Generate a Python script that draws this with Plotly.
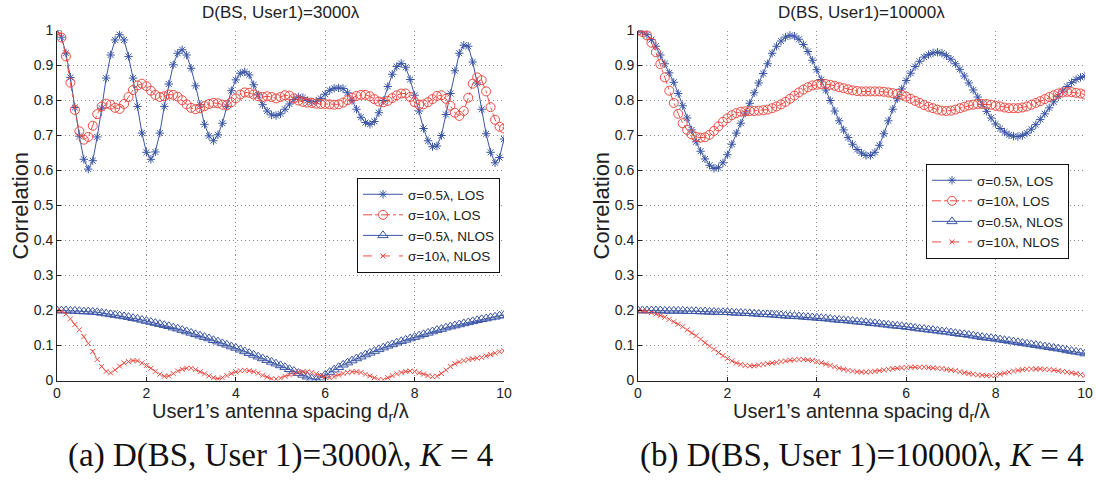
import plotly.graph_objects as go

# spacing d_r / lambda (0 .. 10, step 0.1)
x_spacing = [round(i * 0.1, 1) for i in range(101)]

# ---- (a) D(BS, User1) = 3000 lambda ----
a_los_05 = [1.000, 0.981, 0.935, 0.866, 0.780, 0.698, 0.632, 0.604, 0.628, 0.696,
            0.778, 0.864, 0.930, 0.973, 0.988, 0.973, 0.926, 0.864, 0.783, 0.707,
            0.652, 0.632, 0.653, 0.707, 0.783, 0.847, 0.902, 0.935, 0.945, 0.930,
            0.892, 0.842, 0.788, 0.732, 0.699, 0.685, 0.702, 0.735, 0.783, 0.828,
            0.859, 0.878, 0.882, 0.873, 0.845, 0.816, 0.788, 0.770, 0.759, 0.757,
            0.762, 0.775, 0.790, 0.803, 0.810, 0.808, 0.800, 0.796, 0.798, 0.806,
            0.818, 0.829, 0.835, 0.836, 0.834, 0.822, 0.800, 0.775, 0.752, 0.737,
            0.732, 0.740, 0.765, 0.800, 0.840, 0.875, 0.897, 0.906, 0.895, 0.860,
            0.815, 0.770, 0.720, 0.685, 0.668, 0.670, 0.700, 0.760, 0.820, 0.885,
            0.935, 0.958, 0.955, 0.910, 0.850, 0.775, 0.705, 0.652, 0.622, 0.637,
            0.690]
a_los_10 = [1.000, 0.980, 0.926, 0.851, 0.773, 0.712, 0.688, 0.696, 0.728, 0.761,
            0.783, 0.791, 0.788, 0.779, 0.776, 0.790, 0.810, 0.830, 0.843, 0.848,
            0.841, 0.828, 0.816, 0.810, 0.812, 0.817, 0.816, 0.811, 0.801, 0.789,
            0.779, 0.775, 0.778, 0.784, 0.790, 0.793, 0.792, 0.788, 0.787, 0.795,
            0.806, 0.817, 0.823, 0.822, 0.817, 0.812, 0.810, 0.812, 0.810, 0.806,
            0.810, 0.815, 0.814, 0.806, 0.800, 0.796, 0.794, 0.793, 0.791, 0.790,
            0.790, 0.789, 0.788, 0.789, 0.794, 0.801, 0.808, 0.813, 0.816, 0.816,
            0.812, 0.804, 0.797, 0.795, 0.799, 0.807, 0.815, 0.820, 0.820, 0.810,
            0.795, 0.788, 0.789, 0.795, 0.804, 0.813, 0.815, 0.805, 0.785, 0.765,
            0.756, 0.770, 0.808, 0.848, 0.866, 0.858, 0.826, 0.781, 0.745, 0.725,
            0.720]
a_nlos_05 = [0.200, 0.200, 0.200, 0.199, 0.199, 0.198, 0.197, 0.197, 0.196, 0.195,
             0.193, 0.191, 0.189, 0.187, 0.185, 0.183, 0.181, 0.178, 0.176, 0.173,
             0.170, 0.167, 0.164, 0.161, 0.158, 0.155, 0.151, 0.148, 0.144, 0.140,
             0.136, 0.132, 0.128, 0.124, 0.120, 0.115, 0.111, 0.106, 0.102, 0.097,
             0.093, 0.088, 0.083, 0.078, 0.073, 0.068, 0.063, 0.058, 0.053, 0.048,
             0.043, 0.038, 0.032, 0.027, 0.021, 0.016, 0.011, 0.005, 0.002, 0.008,
             0.016, 0.024, 0.031, 0.038, 0.045, 0.051, 0.057, 0.063, 0.068, 0.074,
             0.079, 0.084, 0.089, 0.094, 0.099, 0.103, 0.108, 0.112, 0.116, 0.120,
             0.124, 0.128, 0.132, 0.136, 0.140, 0.144, 0.147, 0.151, 0.154, 0.157,
             0.160, 0.163, 0.166, 0.169, 0.172, 0.175, 0.177, 0.180, 0.182, 0.185,
             0.187]
a_nlos_10 = [0.200, 0.198, 0.190, 0.176, 0.160, 0.145, 0.125, 0.106, 0.083, 0.060,
             0.040, 0.026, 0.022, 0.030, 0.041, 0.050, 0.054, 0.057, 0.056, 0.050,
             0.043, 0.035, 0.026, 0.018, 0.012, 0.013, 0.020, 0.027, 0.032, 0.035,
             0.035, 0.031, 0.025, 0.019, 0.013, 0.008, 0.005, 0.008, 0.014, 0.020,
             0.025, 0.028, 0.029, 0.028, 0.025, 0.021, 0.015, 0.010, 0.005, 0.004,
             0.007, 0.012, 0.016, 0.020, 0.024, 0.025, 0.025, 0.023, 0.019, 0.014,
             0.010, 0.008, 0.011, 0.016, 0.020, 0.023, 0.025, 0.025, 0.023, 0.018,
             0.013, 0.008, 0.003, 0.002, 0.008, 0.014, 0.019, 0.023, 0.026, 0.027,
             0.026, 0.022, 0.018, 0.014, 0.011, 0.012, 0.020, 0.030, 0.040, 0.048,
             0.053, 0.057, 0.060, 0.062, 0.064, 0.066, 0.070, 0.074, 0.078, 0.082,
             0.085]

# ---- (b) D(BS, User1) = 10000 lambda ----
b_los_05 = [1.000, 0.996, 0.988, 0.974, 0.955, 0.930, 0.905, 0.879, 0.852, 0.820,
            0.785, 0.750, 0.716, 0.682, 0.655, 0.633, 0.615, 0.606, 0.608, 0.622,
            0.645, 0.675, 0.707, 0.735, 0.764, 0.792, 0.822, 0.850, 0.877, 0.905,
            0.935, 0.955, 0.970, 0.981, 0.986, 0.984, 0.975, 0.960, 0.940, 0.915,
            0.888, 0.860, 0.830, 0.800, 0.770, 0.742, 0.716, 0.694, 0.675, 0.660,
            0.650, 0.643, 0.643, 0.652, 0.672, 0.705, 0.742, 0.775, 0.805, 0.833,
            0.857, 0.878, 0.897, 0.912, 0.924, 0.931, 0.936, 0.938, 0.935, 0.928,
            0.918, 0.905, 0.889, 0.870, 0.850, 0.830, 0.810, 0.789, 0.769, 0.750,
            0.733, 0.720, 0.710, 0.702, 0.698, 0.697, 0.700, 0.707, 0.718, 0.731,
            0.746, 0.762, 0.779, 0.796, 0.812, 0.827, 0.840, 0.851, 0.860, 0.866,
            0.870]
b_los_10 = [1.000, 0.996, 0.986, 0.965, 0.938, 0.904, 0.866, 0.828, 0.793, 0.762,
            0.735, 0.716, 0.703, 0.696, 0.694, 0.695, 0.702, 0.713, 0.726, 0.739,
            0.749, 0.758, 0.764, 0.768, 0.769, 0.770, 0.770, 0.771, 0.772, 0.774,
            0.778, 0.783, 0.789, 0.796, 0.805, 0.814, 0.823, 0.831, 0.838, 0.843,
            0.845, 0.847, 0.847, 0.845, 0.842, 0.838, 0.835, 0.832, 0.829, 0.827,
            0.826, 0.826, 0.826, 0.826, 0.826, 0.825, 0.823, 0.821, 0.819, 0.816,
            0.811, 0.805, 0.799, 0.793, 0.787, 0.782, 0.778, 0.774, 0.771, 0.770,
            0.771, 0.774, 0.778, 0.782, 0.786, 0.788, 0.790, 0.790, 0.790, 0.788,
            0.785, 0.783, 0.780, 0.778, 0.778, 0.778, 0.780, 0.783, 0.788, 0.793,
            0.798, 0.804, 0.810, 0.815, 0.820, 0.823, 0.825, 0.824, 0.822, 0.820,
            0.817]
b_nlos_05 = [0.200, 0.200, 0.200, 0.200, 0.200, 0.200, 0.199, 0.199, 0.199, 0.199,
             0.199, 0.198, 0.198, 0.198, 0.197, 0.197, 0.196, 0.196, 0.195, 0.195,
             0.195, 0.194, 0.193, 0.193, 0.192, 0.192, 0.191, 0.190, 0.189, 0.189,
             0.188, 0.187, 0.186, 0.185, 0.184, 0.184, 0.183, 0.182, 0.181, 0.180,
             0.179, 0.178, 0.177, 0.176, 0.174, 0.173, 0.172, 0.171, 0.170, 0.168,
             0.167, 0.166, 0.164, 0.163, 0.162, 0.160, 0.159, 0.157, 0.156, 0.155,
             0.153, 0.152, 0.150, 0.148, 0.147, 0.145, 0.144, 0.142, 0.140, 0.139,
             0.137, 0.135, 0.133, 0.132, 0.130, 0.128, 0.126, 0.124, 0.122, 0.121,
             0.119, 0.117, 0.115, 0.113, 0.111, 0.109, 0.107, 0.105, 0.103, 0.101,
             0.099, 0.097, 0.095, 0.093, 0.091, 0.089, 0.086, 0.084, 0.082, 0.080,
             0.077]
b_nlos_10 = [0.200, 0.199, 0.197, 0.194, 0.190, 0.186, 0.181, 0.175, 0.168, 0.161,
             0.154, 0.145, 0.136, 0.128, 0.118, 0.108, 0.098, 0.089, 0.080, 0.071,
             0.063, 0.056, 0.050, 0.046, 0.043, 0.042, 0.042, 0.044, 0.046, 0.048,
             0.050, 0.052, 0.054, 0.056, 0.058, 0.059, 0.060, 0.060, 0.059, 0.057,
             0.054, 0.051, 0.047, 0.043, 0.039, 0.035, 0.032, 0.029, 0.027, 0.025,
             0.024, 0.024, 0.025, 0.026, 0.028, 0.030, 0.032, 0.034, 0.035, 0.036,
             0.037, 0.038, 0.038, 0.038, 0.038, 0.037, 0.036, 0.035, 0.034, 0.032,
             0.030, 0.028, 0.025, 0.022, 0.020, 0.018, 0.016, 0.015, 0.014, 0.014,
             0.015, 0.018, 0.021, 0.024, 0.027, 0.029, 0.031, 0.032, 0.033, 0.033,
             0.033, 0.032, 0.031, 0.030, 0.028, 0.026, 0.024, 0.022, 0.020, 0.017,
             0.014]

series_names = ["σ=0.5λ, LOS", "σ=10λ, LOS", "σ=0.5λ, NLOS", "σ=10λ, NLOS"]
panel_titles = ["D(BS, User1)=3000λ", "D(BS, User1)=10000λ"]
captions = ["(a) D(BS, User 1)=3000λ, <i>K</i> = 4",
            "(b) D(BS, User 1)=10000λ, <i>K</i> = 4"]
x_ticks = [0, 2, 4, 6, 8, 10]
y_ticks = [0, 0.1, 0.2, 0.3, 0.4, 0.5, 0.6, 0.7, 0.8, 0.9, 1]
y_tick_text = ["0", "0.1", "0.2", "0.3", "0.4", "0.5", "0.6", "0.7", "0.8", "0.9", "1"]

BLUE = "#3B56A6"
RED = "#EC4B43"
W, H = 1096, 482
SANS = "Liberation Sans, Arial, sans-serif"
TXT = "#222"

styles = [
    dict(color=BLUE, dash="solid", symbol="asterisk-open", size=7),
    dict(color=RED, dash="dashdot", symbol="circle-open", size=9),
    dict(color=BLUE, dash="solid", symbol="triangle-up-open", size=9),
    dict(color=RED, dash="dash", symbol="x-thin-open", size=5),
]

panels = [
    dict(data=[a_los_05, a_los_10, a_nlos_05, a_nlos_10], xa="x", ya="y", leg="legend"),
    dict(data=[b_los_05, b_los_10, b_nlos_05, b_nlos_10], xa="x2", ya="y2", leg="legend2"),
]

fig = go.Figure()
for p in panels:
    for name, ys, st in zip(series_names, p["data"], styles):
        fig.add_trace(go.Scatter(
            x=x_spacing, y=ys, name=name, mode="lines+markers",
            xaxis=p["xa"], yaxis=p["ya"], legend=p["leg"],
            line=dict(color=st["color"], width=1, dash=st["dash"]),
            marker=dict(symbol=st["symbol"], size=st["size"], color=st["color"],
                        line=dict(width=1, color=st["color"])),
        ))

# pixel geometry of the two plot areas
px_left = [(57, 504), (638, 1085)]
py_top, py_bot = 30.5, 380.5
ydom = [1 - py_bot / H, 1 - py_top / H]

grid = dict(showgrid=True, gridcolor="#8a8a8a", griddash="1px,3px", gridwidth=1)
axis_common = dict(
    range=[0, 10], tickvals=x_ticks, showline=True, linecolor=TXT, linewidth=1,
    zeroline=False, ticks="inside", ticklen=4, tickcolor=TXT,
    tickfont=dict(family=SANS, size=14, color=TXT), automargin=False, **grid,
)
yaxis_common = dict(
    range=[0, 1], tickvals=y_ticks, ticktext=y_tick_text, showline=True,
    linecolor=TXT, linewidth=1, zeroline=False, ticks="inside", ticklen=4,
    tickcolor=TXT, tickfont=dict(family=SANS, size=14, color=TXT),
    automargin=False, **grid,
)

layout = dict(
    width=W, height=H, margin=dict(l=0, r=0, t=0, b=0),
    paper_bgcolor="white", plot_bgcolor="white", showlegend=True,
)
for i, (l, r) in enumerate(px_left):
    sfx = "" if i == 0 else "2"
    layout["xaxis" + sfx] = dict(axis_common, domain=[l / W, r / W],
                                 anchor="y" + sfx)
    layout["yaxis" + sfx] = dict(yaxis_common, domain=ydom, anchor="x" + sfx)

legend_common = dict(
    bgcolor="white", bordercolor="#111", borderwidth=1,
    font=dict(family=SANS, size=13.5, color=TXT),
    xanchor="left", yanchor="top", itemwidth=40, tracegroupgap=0,
)
layout["legend"] = dict(legend_common, x=357 / W, y=1 - 178 / H)
layout["legend2"] = dict(legend_common, x=926 / W, y=1 - 164 / H)

annotations = []
for i, (l, r) in enumerate(px_left):
    cx = (l + r) / 2 / W
    annotations.append(dict(text=panel_titles[i], x=cx, y=1 - 12 / H, xref="paper",
                            yref="paper", showarrow=False, xanchor="center",
                            yanchor="middle",
                            font=dict(family=SANS, size=17, color=TXT)))
    annotations.append(dict(text="User1’s antenna spacing d<sub>r</sub>/λ", x=cx,
                            y=1 - 412 / H, xref="paper", yref="paper",
                            showarrow=False, xanchor="center", yanchor="middle",
                            font=dict(family=SANS, size=20, color=TXT)))
    annotations.append(dict(text="Correlation", x=(l - 37) / W,
                            y=1 - (py_top + py_bot) / 2 / H, xref="paper",
                            yref="paper", showarrow=False, textangle=-90,
                            xanchor="center", yanchor="middle",
                            font=dict(family=SANS, size=22, color=TXT)))
    annotations.append(dict(text=captions[i], x=cx, y=1 - 455 / H, xref="paper",
                            yref="paper", showarrow=False, xanchor="center",
                            yanchor="middle",
                            font=dict(family="Liberation Serif, Times New Roman, serif",
                                      size=33, color="#111")))
layout["annotations"] = annotations

fig.update_layout(**layout)
fig.write_html("out.html", config={"displayModeBar": False},
               post_script="document.body.style.margin='0';")
